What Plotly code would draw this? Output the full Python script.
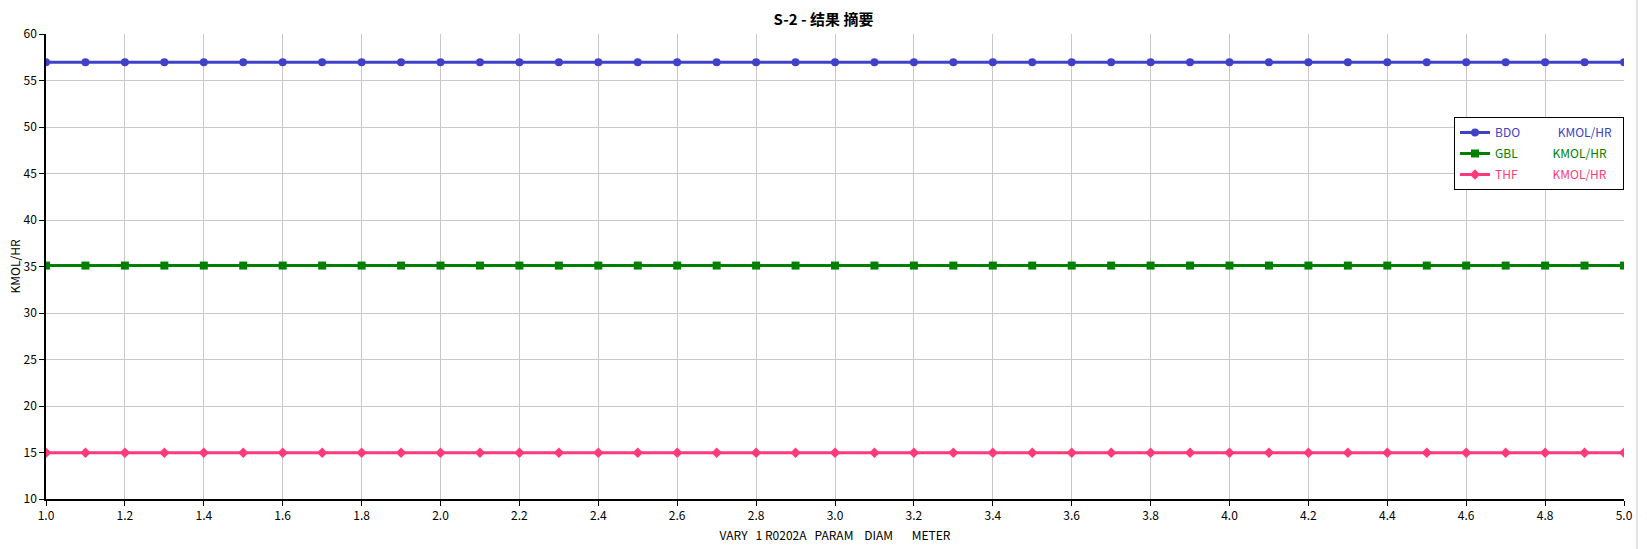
import plotly.graph_objects as go

x_vals = [1.0, 1.1, 1.2, 1.3, 1.4, 1.5, 1.6, 1.7, 1.8, 1.9, 2.0,
          2.1, 2.2, 2.3, 2.4, 2.5, 2.6, 2.7, 2.8, 2.9, 3.0,
          3.1, 3.2, 3.3, 3.4, 3.5, 3.6, 3.7, 3.8, 3.9, 4.0,
          4.1, 4.2, 4.3, 4.4, 4.5, 4.6, 4.7, 4.8, 4.9, 5.0]
bdo = [56.95] * 41
gbl = [35.1] * 41
thf = [14.98] * 41

series_names = ["BDO", "GBL", "THF"]
unit = "KMOL/HR"
colors = ["#4040C8", "#008000", "#FF3A7A"]
symbols = ["circle", "square", "diamond"]
pads = ["\u00a0" * 14, "\u00a0" * 13, "\u00a0" * 13]

fig = go.Figure()
for name, ys, c, s, p in zip(series_names, [bdo, gbl, thf], colors, symbols, pads):
    fig.add_trace(go.Scatter(
        x=x_vals, y=ys, mode="lines+markers",
        name=f"<span style='color:{c}'>{name}{p}{unit}\u00a0\u00a0</span>",
        legendgroup=name,
        line=dict(color=c, width=3),
        marker=dict(symbol=s, size=8, color=c),
    ))

font_family = "Noto Sans CJK SC, Noto Sans, sans-serif"
fig.update_layout(
    width=1647, height=549,
    margin=dict(l=46, r=23, t=34, b=50, autoexpand=False),
    paper_bgcolor="white", plot_bgcolor="white",
    font=dict(family=font_family, size=12, color="black"),
    title=dict(text="<b>S-2 - 结果 摘要</b>", x=0.5, xanchor="center",
               y=1 - 20 / 549, yanchor="middle", font=dict(size=15)),
    showlegend=True,
    legend=dict(x=1.0, xanchor="right", y=(499 - 117) / 465, yanchor="top",
                bordercolor="black", borderwidth=1, bgcolor="white",
                font=dict(size=12), itemwidth=30, tracegroupgap=2),
    xaxis=dict(range=[1.0, 5.0], dtick=0.2, tick0=1.0, tickformat=".1f",
               showgrid=True, gridcolor="#C8C8C8", gridwidth=1,
               showline=True, linecolor="black", linewidth=1.5,
               ticks="outside", ticklen=5, tickcolor="black",
               zeroline=False,
               title=dict(text="VARY\u00a0\u00a0\u00a01 R0202A\u00a0\u00a0\u00a0PARAM\u00a0\u00a0\u00a0\u00a0DIAM\u00a0\u00a0\u00a0\u00a0\u00a0\u00a0\u00a0METER",
                          standoff=9, font=dict(size=12))),
    yaxis=dict(range=[10, 60], dtick=5, tick0=10,
               showgrid=True, gridcolor="#C8C8C8", gridwidth=1,
               showline=True, linecolor="black", linewidth=1.5,
               ticks="outside", ticklen=5, tickcolor="black",
               zeroline=False,
               title=dict(text="KMOL/HR", standoff=0, font=dict(size=12))),
    shapes=[dict(type="line", xref="paper", yref="paper",
                 x0=(1637 - 46) / 1578, x1=(1637 - 46) / 1578, y0=-0.2, y1=1.2,
                 line=dict(color="#C8C8C8", width=1))],
)

fig.write_html("out.html", config={"displayModeBar": False},
               post_script="document.body.style.margin='0';document.body.style.overflow='hidden';")
